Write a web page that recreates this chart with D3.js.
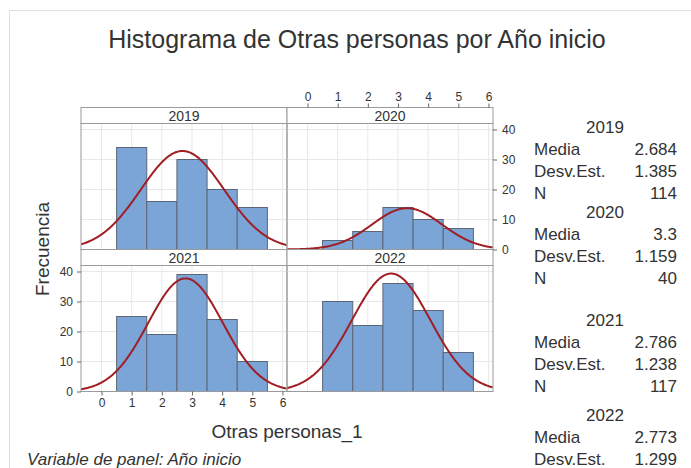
<!DOCTYPE html>
<html>
<head>
<meta charset="utf-8">
<script src="https://cdn.jsdelivr.net/npm/d3@7"></script>
<style>
  body { margin: 0; background: #fff; }
  text { font-family: "Liberation Sans", Arial, sans-serif; fill: #333; }
</style>
</head>
<body>
<div id="chart"></div>
<script>
// values
const years = ["2019", "2020", "2021", "2022"];
const binCenters = [1, 2, 3, 4, 5];
const counts = [
  [34, 16, 30, 20, 14],
  [3, 6, 14, 10, 7],
  [25, 19, 39, 24, 10],
  [30, 22, 36, 27, 13]
];
const means = [2.684, 3.3, 2.786, 2.773];
const stdevs = [1.385, 1.159, 1.238, 1.299];
const ns = [114, 40, 117, 128];
const xTicks = [0, 1, 2, 3, 4, 5, 6];
const yTicks = [0, 10, 20, 30, 40];

const width = 691, height = 468;

const svg = d3.select("#chart").append("svg")
  .attr("width", width)
  .attr("height", height);

// light outer frame
svg.append("rect")
  .attr("x", 9.5).attr("y", 10.5)
  .attr("width", 700).attr("height", 500)
  .attr("fill", "none")
  .attr("stroke", "#e0e0e0");

svg.append("text")
  .attr("x", 357).attr("y", 48)
  .attr("text-anchor", "middle")
  .style("font-size", "25px")
  .text("Histograma de Otras personas por Año inicio");

// panel grid: 2 cols x 2 rows
const colX = [81, 287], panelW = 206;
const rowY = [107.5, 249.5], stripH = 16, plotH = 126;

const x = d3.scaleLinear().domain([-0.68, 6.15]).range([0, panelW]);
const y = d3.scaleLinear().domain([0, 42]).range([plotH, 0]);

const normal = (v, m, s, n) => n * Math.exp(-((v - m) ** 2) / (2 * s * s)) / (s * Math.sqrt(2 * Math.PI));

years.forEach((yr, i) => {
  const col = i % 2, row = Math.floor(i / 2);
  const g = svg.append("g")
    .attr("transform", `translate(${colX[col]},${rowY[row] + stripH})`);

  g.append("defs").append("clipPath").attr("id", "clip" + i)
    .append("rect").attr("width", panelW).attr("height", plotH);

  // gridlines
  g.append("g").selectAll("line").data(xTicks).join("line")
    .attr("x1", d => x(d)).attr("x2", d => x(d))
    .attr("y1", 0).attr("y2", plotH)
    .attr("stroke", "#e8e8e8");
  g.append("g").selectAll("line").data(yTicks).join("line")
    .attr("x1", 0).attr("x2", panelW)
    .attr("y1", d => y(d)).attr("y2", d => y(d))
    .attr("stroke", "#e8e8e8");

  // bars
  g.append("g").selectAll("rect").data(binCenters).join("rect")
    .attr("x", d => x(d - 0.5))
    .attr("y", (d, j) => y(counts[i][j]))
    .attr("width", d => x(d + 0.5) - x(d - 0.5))
    .attr("height", (d, j) => plotH - y(counts[i][j]))
    .attr("fill", "#7ba4d7")
    .attr("stroke", "#5d6676")
    .attr("stroke-width", 1);

  // fitted normal curve
  const pts = d3.range(-0.68, 6.16, 0.02);
  g.append("path")
    .datum(pts)
    .attr("clip-path", `url(#clip${i})`)
    .attr("fill", "none")
    .attr("stroke", "#a01e24")
    .attr("stroke-width", 2)
    .attr("d", d3.line().x(d => x(d)).y(d => y(normal(d, means[i], stdevs[i], ns[i]))));

  // plot border
  g.append("rect")
    .attr("width", panelW).attr("height", plotH)
    .attr("fill", "none").attr("stroke", "#9a9a9a");

  // strip
  const s = svg.append("g")
    .attr("transform", `translate(${colX[col]},${rowY[row]})`);
  s.append("rect")
    .attr("width", panelW).attr("height", stripH)
    .attr("fill", "#fff").attr("stroke", "#9a9a9a");
  s.append("text")
    .attr("x", panelW / 2).attr("y", stripH / 2 + 5)
    .attr("text-anchor", "middle")
    .style("font-size", "14px")
    .text(yr);

  // axes alternate around the panel grid
  const styleAxis = a => {
    a.select(".domain").remove();
    a.selectAll("line").attr("stroke", "#666");
    a.selectAll("text").style("font-size", "12px").attr("fill", "#333");
  };
  if (i === 1) {
    svg.append("g")
      .attr("transform", `translate(${colX[col]},${rowY[row]})`)
      .call(d3.axisTop(x).tickValues(xTicks).tickFormat(d3.format("d")).tickSize(4).tickPadding(3))
      .call(styleAxis);
    g.append("g")
      .attr("transform", `translate(${panelW},0)`)
      .call(d3.axisRight(y).tickValues(yTicks).tickSize(4).tickPadding(5))
      .call(styleAxis);
  }
  if (i === 2) {
    g.append("g")
      .call(d3.axisLeft(y).tickValues(yTicks).tickSize(4).tickPadding(4))
      .call(styleAxis);
    g.append("g")
      .attr("transform", `translate(0,${plotH})`)
      .call(d3.axisBottom(x).tickValues(xTicks).tickFormat(d3.format("d")).tickSize(4).tickPadding(3))
      .call(styleAxis);
  }
});

// axis titles
svg.append("text")
  .attr("x", 287).attr("y", 438)
  .attr("text-anchor", "middle")
  .style("font-size", "19px")
  .text("Otras personas_1");

svg.append("text")
  .attr("transform", "translate(49,249) rotate(-90)")
  .attr("text-anchor", "middle")
  .style("font-size", "19px")
  .text("Frecuencia");

svg.append("text")
  .attr("x", 27).attr("y", 465)
  .style("font-size", "17px")
  .style("font-style", "italic")
  .text("Variable de panel: Año inicio");

// summary table
const legendTop = [127, 212, 320, 415];
const rowLabels = ["Media", "Desv.Est.", "N"];
years.forEach((yr, i) => {
  const lg = svg.append("g").attr("transform", `translate(0,${legendTop[i]})`);
  lg.append("text")
    .attr("x", 605).attr("dy", "0.35em")
    .attr("text-anchor", "middle")
    .style("font-size", "17px")
    .text(yr);
  const vals = [means[i], stdevs[i], ns[i]];
  rowLabels.forEach((lab, k) => {
    lg.append("text")
      .attr("x", 534).attr("y", 22 + k * 22).attr("dy", "0.35em")
      .style("font-size", "17px")
      .text(lab);
    lg.append("text")
      .attr("x", 677).attr("y", 22 + k * 22).attr("dy", "0.35em")
      .attr("text-anchor", "end")
      .style("font-size", "17px")
      .text(String(vals[k]));
  });
});
</script>
</body>
</html>
